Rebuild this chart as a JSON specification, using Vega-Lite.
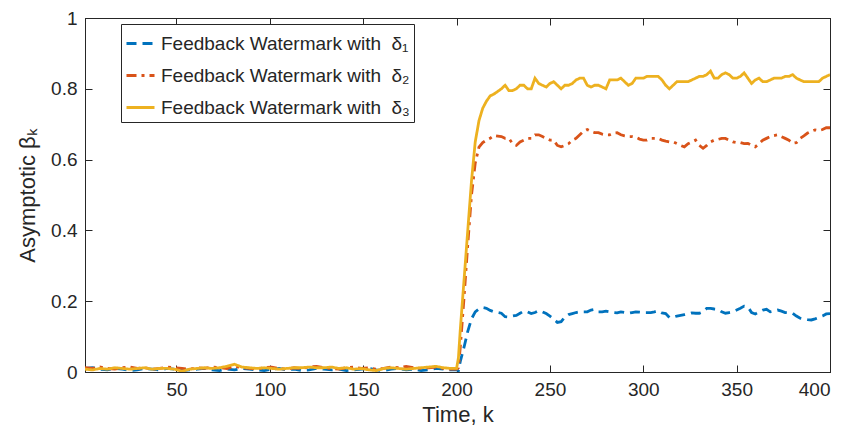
{
  "$schema": "https://vega.github.io/schema/vega-lite/v6.json",
  "width": 745,
  "height": 354,
  "autosize": {"type": "none"},
  "padding": {"left": 85, "top": 18, "right": 18, "bottom": 58},
  "background": "white",
  "config": {
    "font": "Liberation Sans",
    "view": {"stroke": "#262626", "strokeWidth": 1},
    "axis": {
      "domainColor": "#262626",
      "tickColor": "#262626",
      "labelColor": "#262626",
      "titleColor": "#262626",
      "labelFont": "Liberation Sans",
      "titleFont": "Liberation Sans",
      "labelFontSize": 19,
      "titleFontSize": 22,
      "titleFontWeight": "normal",
      "grid": false,
      "tickSize": -7,
      "labelPadding": 15
    },
    "legend": {
      "orient": "none",
      "legendX": 36,
      "legendY": 6,
      "strokeColor": "#262626",
      "fillColor": "white",
      "padding": 4,
      "cornerRadius": 0,
      "symbolType": "stroke",
      "symbolSize": 784,
      "symbolStrokeWidth": 3,
      "rowPadding": 6,
      "labelOffset": 5,
      "labelFont": "Liberation Sans",
      "labelFontSize": 19,
      "labelColor": "#262626",
      "labelLimit": 400
    }
  },
  "data": {
    "values": [
      {"k": 1, "d1": 0.01, "d2": 0.012, "d3": 0.008},
      {"k": 5, "d1": 0.012, "d2": 0.01, "d3": 0.006},
      {"k": 9, "d1": 0.008, "d2": 0.014, "d3": 0.01},
      {"k": 13, "d1": 0.006, "d2": 0.01, "d3": 0.008},
      {"k": 17, "d1": 0.01, "d2": 0.008, "d3": 0.012},
      {"k": 21, "d1": 0.008, "d2": 0.012, "d3": 0.01},
      {"k": 25, "d1": 0.004, "d2": 0.014, "d3": 0.008},
      {"k": 29, "d1": 0.006, "d2": 0.01, "d3": 0.01},
      {"k": 33, "d1": 0.01, "d2": 0.012, "d3": 0.012},
      {"k": 37, "d1": 0.008, "d2": 0.008, "d3": 0.008},
      {"k": 41, "d1": 0.006, "d2": 0.01, "d3": 0.01},
      {"k": 45, "d1": 0.01, "d2": 0.014, "d3": 0.01},
      {"k": 49, "d1": 0.008, "d2": 0.012, "d3": 0.008},
      {"k": 53, "d1": 0.004, "d2": 0.01, "d3": 0.002},
      {"k": 57, "d1": 0.006, "d2": 0.008, "d3": 0.008},
      {"k": 61, "d1": 0.008, "d2": 0.012, "d3": 0.01},
      {"k": 65, "d1": 0.01, "d2": 0.01, "d3": 0.012},
      {"k": 69, "d1": 0.006, "d2": 0.014, "d3": 0.01},
      {"k": 73, "d1": 0.004, "d2": 0.012, "d3": 0.012},
      {"k": 77, "d1": 0.008, "d2": 0.01, "d3": 0.016},
      {"k": 81, "d1": 0.006, "d2": 0.016, "d3": 0.022},
      {"k": 85, "d1": 0.01, "d2": 0.012, "d3": 0.014},
      {"k": 89, "d1": 0.008, "d2": 0.01, "d3": 0.012},
      {"k": 93, "d1": 0.006, "d2": 0.008, "d3": 0.01},
      {"k": 97, "d1": 0.004, "d2": 0.012, "d3": 0.012},
      {"k": 101, "d1": 0.008, "d2": 0.014, "d3": 0.01},
      {"k": 105, "d1": 0.01, "d2": 0.01, "d3": 0.008},
      {"k": 109, "d1": 0.006, "d2": 0.008, "d3": 0.01},
      {"k": 113, "d1": 0.008, "d2": 0.012, "d3": 0.012},
      {"k": 117, "d1": 0.004, "d2": 0.01, "d3": 0.012},
      {"k": 121, "d1": 0.006, "d2": 0.014, "d3": 0.014},
      {"k": 125, "d1": 0.01, "d2": 0.016, "d3": 0.012},
      {"k": 129, "d1": 0.008, "d2": 0.012, "d3": 0.012},
      {"k": 133, "d1": 0.006, "d2": 0.01, "d3": 0.014},
      {"k": 137, "d1": 0.008, "d2": 0.008, "d3": 0.01},
      {"k": 141, "d1": 0.004, "d2": 0.012, "d3": 0.012},
      {"k": 145, "d1": 0.006, "d2": 0.014, "d3": 0.008},
      {"k": 149, "d1": 0.008, "d2": 0.01, "d3": 0.01},
      {"k": 153, "d1": 0.01, "d2": 0.012, "d3": 0.006},
      {"k": 157, "d1": 0.006, "d2": 0.008, "d3": 0.004},
      {"k": 161, "d1": 0.004, "d2": 0.01, "d3": 0.01},
      {"k": 165, "d1": 0.008, "d2": 0.014, "d3": 0.012},
      {"k": 169, "d1": 0.01, "d2": 0.012, "d3": 0.01},
      {"k": 173, "d1": 0.006, "d2": 0.016, "d3": 0.008},
      {"k": 177, "d1": 0.008, "d2": 0.012, "d3": 0.01},
      {"k": 181, "d1": 0.004, "d2": 0.01, "d3": 0.012},
      {"k": 185, "d1": 0.006, "d2": 0.012, "d3": 0.014},
      {"k": 189, "d1": 0.01, "d2": 0.014, "d3": 0.016},
      {"k": 193, "d1": 0.008, "d2": 0.01, "d3": 0.012},
      {"k": 197, "d1": 0.006, "d2": 0.008, "d3": 0.01},
      {"k": 200, "d1": 0.006, "d2": 0.008, "d3": 0.01},
      {"k": 201, "d1": 0.004, "d2": 0.012, "d3": 0.04},
      {"k": 202, "d1": 0.03, "d2": 0.07, "d3": 0.12},
      {"k": 204, "d1": 0.07, "d2": 0.21, "d3": 0.26},
      {"k": 206, "d1": 0.115, "d2": 0.36, "d3": 0.4},
      {"k": 208, "d1": 0.15, "d2": 0.5, "d3": 0.54},
      {"k": 210, "d1": 0.17, "d2": 0.59, "d3": 0.65},
      {"k": 212, "d1": 0.178, "d2": 0.635, "d3": 0.71},
      {"k": 214, "d1": 0.182, "d2": 0.648, "d3": 0.745},
      {"k": 216, "d1": 0.18, "d2": 0.655, "d3": 0.765},
      {"k": 218, "d1": 0.174, "d2": 0.66, "d3": 0.78},
      {"k": 220, "d1": 0.17, "d2": 0.668, "d3": 0.785},
      {"k": 224, "d1": 0.166, "d2": 0.665, "d3": 0.8},
      {"k": 226, "d1": 0.156, "d2": 0.66, "d3": 0.81},
      {"k": 228, "d1": 0.155, "d2": 0.66, "d3": 0.795},
      {"k": 230, "d1": 0.158, "d2": 0.645, "d3": 0.795},
      {"k": 232, "d1": 0.16, "d2": 0.64, "d3": 0.8},
      {"k": 234, "d1": 0.166, "d2": 0.65, "d3": 0.81},
      {"k": 236, "d1": 0.172, "d2": 0.655, "d3": 0.81},
      {"k": 238, "d1": 0.17, "d2": 0.66, "d3": 0.8},
      {"k": 240, "d1": 0.165, "d2": 0.66, "d3": 0.8},
      {"k": 242, "d1": 0.168, "d2": 0.67, "d3": 0.83},
      {"k": 244, "d1": 0.173, "d2": 0.67, "d3": 0.815},
      {"k": 246, "d1": 0.17, "d2": 0.665, "d3": 0.81},
      {"k": 248, "d1": 0.165, "d2": 0.66, "d3": 0.805},
      {"k": 250, "d1": 0.158, "d2": 0.655, "d3": 0.815},
      {"k": 252, "d1": 0.15, "d2": 0.655, "d3": 0.82},
      {"k": 254, "d1": 0.14, "d2": 0.64, "d3": 0.81},
      {"k": 256, "d1": 0.142, "d2": 0.636, "d3": 0.8},
      {"k": 258, "d1": 0.155, "d2": 0.64, "d3": 0.81},
      {"k": 260, "d1": 0.162, "d2": 0.645, "d3": 0.81},
      {"k": 262, "d1": 0.165, "d2": 0.655, "d3": 0.815},
      {"k": 264, "d1": 0.168, "d2": 0.66, "d3": 0.825},
      {"k": 266, "d1": 0.17, "d2": 0.67, "d3": 0.83},
      {"k": 268, "d1": 0.17, "d2": 0.68, "d3": 0.83},
      {"k": 270, "d1": 0.17, "d2": 0.685, "d3": 0.81},
      {"k": 272, "d1": 0.175, "d2": 0.68, "d3": 0.805},
      {"k": 274, "d1": 0.177, "d2": 0.676, "d3": 0.81},
      {"k": 276, "d1": 0.17, "d2": 0.676, "d3": 0.81},
      {"k": 278, "d1": 0.17, "d2": 0.672, "d3": 0.805},
      {"k": 280, "d1": 0.172, "d2": 0.67, "d3": 0.8},
      {"k": 282, "d1": 0.17, "d2": 0.67, "d3": 0.825},
      {"k": 284, "d1": 0.168, "d2": 0.675, "d3": 0.825},
      {"k": 286, "d1": 0.167, "d2": 0.676, "d3": 0.825},
      {"k": 288, "d1": 0.17, "d2": 0.67, "d3": 0.83},
      {"k": 290, "d1": 0.168, "d2": 0.667, "d3": 0.82},
      {"k": 292, "d1": 0.166, "d2": 0.665, "d3": 0.81},
      {"k": 294, "d1": 0.168, "d2": 0.665, "d3": 0.815},
      {"k": 296, "d1": 0.17, "d2": 0.663, "d3": 0.83},
      {"k": 298, "d1": 0.169, "d2": 0.658, "d3": 0.83},
      {"k": 300, "d1": 0.168, "d2": 0.655, "d3": 0.83},
      {"k": 302, "d1": 0.168, "d2": 0.655, "d3": 0.835},
      {"k": 304, "d1": 0.168, "d2": 0.66, "d3": 0.835},
      {"k": 306, "d1": 0.17, "d2": 0.66, "d3": 0.835},
      {"k": 308, "d1": 0.173, "d2": 0.66, "d3": 0.835},
      {"k": 310, "d1": 0.167, "d2": 0.655, "d3": 0.825},
      {"k": 312, "d1": 0.165, "d2": 0.652, "d3": 0.81},
      {"k": 314, "d1": 0.154, "d2": 0.65, "d3": 0.8},
      {"k": 316, "d1": 0.155, "d2": 0.65, "d3": 0.81},
      {"k": 318, "d1": 0.158, "d2": 0.645, "d3": 0.82},
      {"k": 320, "d1": 0.16, "d2": 0.64, "d3": 0.82},
      {"k": 322, "d1": 0.162, "d2": 0.636, "d3": 0.82},
      {"k": 324, "d1": 0.164, "d2": 0.645, "d3": 0.82},
      {"k": 326, "d1": 0.167, "d2": 0.65, "d3": 0.825},
      {"k": 328, "d1": 0.166, "d2": 0.655, "d3": 0.83},
      {"k": 330, "d1": 0.166, "d2": 0.64, "d3": 0.835},
      {"k": 332, "d1": 0.17, "d2": 0.632, "d3": 0.835},
      {"k": 334, "d1": 0.18, "d2": 0.64, "d3": 0.84},
      {"k": 336, "d1": 0.18, "d2": 0.65, "d3": 0.85},
      {"k": 338, "d1": 0.178, "d2": 0.655, "d3": 0.83},
      {"k": 340, "d1": 0.177, "d2": 0.657, "d3": 0.83},
      {"k": 342, "d1": 0.17, "d2": 0.66, "d3": 0.84},
      {"k": 344, "d1": 0.166, "d2": 0.66, "d3": 0.845},
      {"k": 346, "d1": 0.168, "d2": 0.655, "d3": 0.84},
      {"k": 348, "d1": 0.17, "d2": 0.65, "d3": 0.83},
      {"k": 350, "d1": 0.175, "d2": 0.648, "d3": 0.83},
      {"k": 352, "d1": 0.18, "d2": 0.648, "d3": 0.835},
      {"k": 354, "d1": 0.186, "d2": 0.645, "d3": 0.845},
      {"k": 356, "d1": 0.184, "d2": 0.646, "d3": 0.83},
      {"k": 358, "d1": 0.168, "d2": 0.64, "d3": 0.815},
      {"k": 360, "d1": 0.164, "d2": 0.636, "d3": 0.825},
      {"k": 362, "d1": 0.17, "d2": 0.645, "d3": 0.83},
      {"k": 364, "d1": 0.175, "d2": 0.655, "d3": 0.82},
      {"k": 366, "d1": 0.177, "d2": 0.66, "d3": 0.82},
      {"k": 368, "d1": 0.17, "d2": 0.665, "d3": 0.825},
      {"k": 370, "d1": 0.172, "d2": 0.668, "d3": 0.83},
      {"k": 372, "d1": 0.175, "d2": 0.67, "d3": 0.83},
      {"k": 374, "d1": 0.172, "d2": 0.665, "d3": 0.83},
      {"k": 376, "d1": 0.168, "d2": 0.66, "d3": 0.835},
      {"k": 378, "d1": 0.167, "d2": 0.655, "d3": 0.835},
      {"k": 380, "d1": 0.166, "d2": 0.646, "d3": 0.84},
      {"k": 382, "d1": 0.158, "d2": 0.648, "d3": 0.83},
      {"k": 384, "d1": 0.152, "d2": 0.66, "d3": 0.825},
      {"k": 386, "d1": 0.15, "d2": 0.667, "d3": 0.82},
      {"k": 388, "d1": 0.148, "d2": 0.675, "d3": 0.82},
      {"k": 390, "d1": 0.147, "d2": 0.68, "d3": 0.82},
      {"k": 392, "d1": 0.15, "d2": 0.684, "d3": 0.82},
      {"k": 394, "d1": 0.154, "d2": 0.682, "d3": 0.82},
      {"k": 396, "d1": 0.158, "d2": 0.685, "d3": 0.83},
      {"k": 398, "d1": 0.164, "d2": 0.69, "d3": 0.835},
      {"k": 400, "d1": 0.165, "d2": 0.69, "d3": 0.84}
    ]
  },
  "transform": [{"fold": ["d1", "d2", "d3"], "as": ["series", "v"]}],
  "layer": [
    {
      "mark": {"type": "line", "strokeWidth": 2.8, "clip": true},
      "encoding": {
        "x": {
          "field": "k",
          "type": "quantitative",
          "scale": {"domain": [1, 400], "nice": false, "zero": false},
          "axis": {"orient": "bottom", "values": [50, 100, 150, 200, 250, 300, 350, 400], "title": "Time, k", "titlePadding": 5}
        },
        "y": {
          "field": "v",
          "type": "quantitative",
          "scale": {"domain": [0, 1], "nice": false},
          "axis": {"orient": "left", "values": [0, 0.2, 0.4, 0.6, 0.8, 1], "format": "~g", "title": "Asymptotic βₖ", "titlePadding": 11}
        },
        "color": {
          "field": "series",
          "type": "nominal",
          "scale": {"domain": ["d1", "d2", "d3"], "range": ["#0072BD", "#D95319", "#EDB120"]},
          "legend": {"title": null, "labelExpr": "'Feedback Watermark with\u00a0\u00a0δ' + (datum.label == 'd1' ? '₁' : datum.label == 'd2' ? '₂' : '₃')"}
        },
        "strokeDash": {
          "field": "series",
          "type": "nominal",
          "scale": {"domain": ["d1", "d2", "d3"], "range": [[10, 6], [10, 5, 3, 5], [1, 0]]},
          "legend": {"title": null, "labelExpr": "'Feedback Watermark with\u00a0\u00a0δ' + (datum.label == 'd1' ? '₁' : datum.label == 'd2' ? '₂' : '₃')"}
        }
      }
    },
    {
      "mark": {"type": "point", "opacity": 0},
      "encoding": {
        "x": {
          "field": "k",
          "type": "quantitative",
          "axis": {"orient": "top", "values": [50, 100, 150, 200, 250, 300, 350, 400], "labels": false, "title": null}
        },
        "y": {
          "field": "v",
          "type": "quantitative",
          "axis": {"orient": "right", "values": [0, 0.2, 0.4, 0.6, 0.8, 1], "labels": false, "title": null}
        }
      }
    }
  ],
  "resolve": {"axis": {"x": "independent", "y": "independent"}}
}
